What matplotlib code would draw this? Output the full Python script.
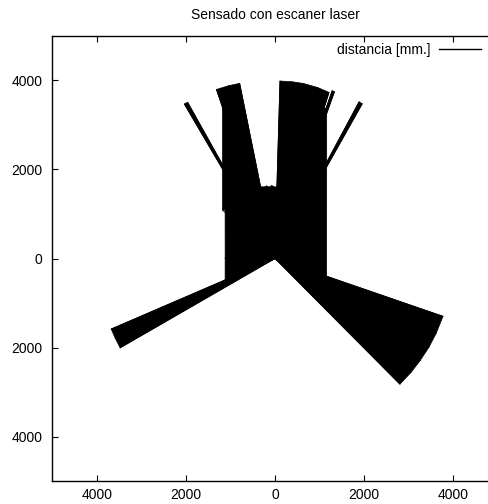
import numpy as np
import matplotlib
matplotlib.use('Agg')
import matplotlib.pyplot as plt

plt.rcParams['font.family'] = ['Liberation Sans', 'DejaVu Sans']

# Laser scan outline: beam angle (deg) and distance (mm)
angulo = [-45.2, -40.0, -35.0, -30.0, -25.0, -19.0,
          -18.9, 60.6,
          60.6, 61.8,
          61.8, 70.4,
          70.4, 71.2,
          71.3, 71.9,
          72.0, 76.0, 80.8, 84.5, 88.4,
          88.6, 90.0, 92.6, 94.5, 96.6, 98.5, 101.3,
          101.4, 105.0, 109.1,
          109.2, 119.2,
          119.2, 120.4,
          120.4, 137.3,
          135.8, 180.0, 203.2,
          203.3, 206.5, 210.0]
distancia = [3980, 3985, 3985, 3990, 3990, 3990,
             1225, 2363,
             3990, 3995,
             2455, 3458,
             3975, 3985,
             3560, 3560,
             3925, 3960, 3985, 3990, 3990,
             1612, 1605, 1640, 1610, 1640, 1625, 1645,
             4015, 4020, 4020,
             3588, 2419,
             4020, 4026,
             2332, 1606,
             1563, 1120, 1219,
             4005, 4010, 4015]

xticks = [-4000, -2000, 0, 2000, 4000]
xtick_labels = ['4000', '2000', '0', '2000', '4000']
yticks = [-4000, -2000, 0, 2000, 4000]
ytick_labels = ['4000', '2000', '0', '2000', '4000']

th = np.radians(angulo)
r = np.array(distancia, dtype=float)
x = r * np.cos(th)
y = r * np.sin(th)

fig = plt.figure(figsize=(4.89, 5.04), dpi=100)
ax = fig.add_axes([0.107, 0.0456, 0.9108, 0.883])

# area swept by the beams
ax.fill(np.r_[0, x, 0], np.r_[0, y, 0], color='black', lw=0.5)

# the beams themselves, origin -> reading
rx = np.column_stack([np.zeros_like(x), x, np.full_like(x, np.nan)]).ravel()
ry = np.column_stack([np.zeros_like(y), y, np.full_like(y, np.nan)]).ravel()
ax.plot(rx, ry, color='black', lw=0.6, label='distancia [mm.]')

ax.set_xlim(-5000, 5000)
ax.set_ylim(-5000, 5000)
ax.set_xticks(xticks)
ax.set_xticklabels(xtick_labels)
ax.set_yticks(yticks)
ax.set_yticklabels(ytick_labels)
ax.tick_params(direction='in', length=4.5, width=0.8, top=True, right=True,
               labelsize=10)
ax.tick_params(axis='x', pad=5)
ax.tick_params(axis='y', pad=7)
for s in ax.spines.values():
    s.set_linewidth(1.0)

ax.set_title('Sensado con escaner laser', fontsize=10, pad=12)

leg = ax.legend(loc='upper right', bbox_to_anchor=(0.962, 0.985),
                frameon=False, markerfirst=False, fontsize=10,
                handlelength=3.0, handletextpad=0.6, borderaxespad=0,
                borderpad=0)
for h in leg.get_lines():
    h.set_linewidth(1.0)

fig.savefig('out.png', dpi=100)
